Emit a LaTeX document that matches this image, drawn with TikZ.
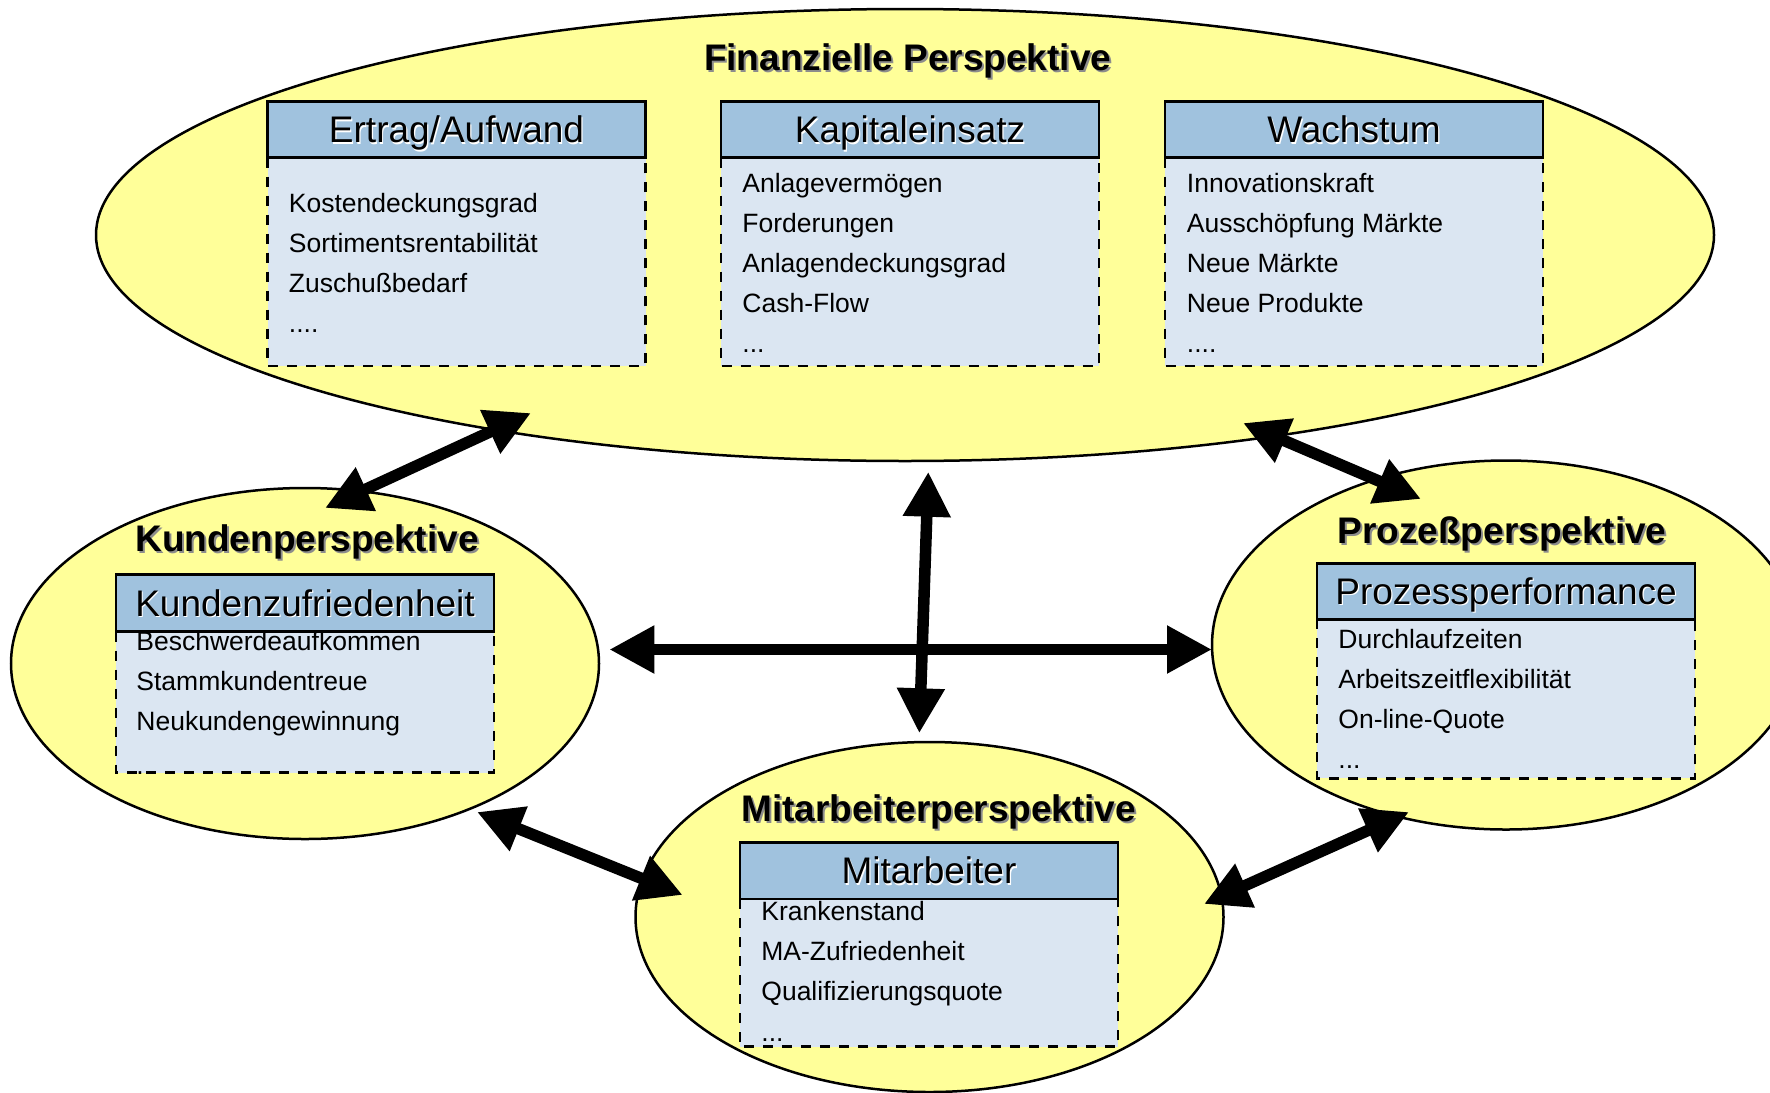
\documentclass[tikz,border=0pt]{standalone}
\usepackage{fontspec}
\setmainfont{Liberation Sans}
\usetikzlibrary{shapes.geometric,arrows.meta}

\definecolor{perspfill}{RGB}{255,255,153}
\definecolor{headfill}{RGB}{160,194,222}
\definecolor{bodyfill}{RGB}{219,230,242}
\definecolor{titleshade}{RGB}{140,140,140}

% header and body of one indicator box (width 378 units)
\newcommand\kpibox[5]{%
  \fill[bodyfill] (#1,#3) rectangle ({#1+378},#4);
  \draw[boxline,fill=headfill] (#1,#2) rectangle ({#1+378},#3);
  \node[headshade] at ({#1+189+1.2},{(#2+#3)/2+13.3+1.2}) {#5};
  \node[headtext] at ({#1+189},{(#2+#3)/2+13.3}) {#5};
}
% dashed frame of the body part
\newcommand\kpiframe[3]{%
  \draw[boxline,kpidash] (#1,#2) rectangle ({#1+378},#3);
}

\begin{document}
\begin{tikzpicture}[x=0.5pt,y=-0.5pt,
  persp/.style={ellipse, draw=black, line width=1.25pt, fill=perspfill,
    inner sep=0pt, minimum width=294pt},
  ptitle/.style={font=\fontsize{18.5}{20}\selectfont\bfseries, anchor=base, inner sep=0pt},
  pshade/.style={ptitle, text=titleshade},
  headtext/.style={font=\fontsize{18.5}{20}\selectfont, anchor=base, inner sep=0pt},
  headshade/.style={headtext, text=white},
  item/.style={font=\fontsize{13.25}{15}\selectfont, anchor=base west, inner sep=0pt},
  boxline/.style={draw=black, line width=1.35pt},
  kpidash/.style={dash pattern=on 5pt off 4.5pt},
  link/.style={line width=5.75pt, {Triangle[length=22.5pt,width=22.5pt]}-{Triangle[length=22.5pt,width=22.5pt]}}
]
\useasboundingbox (0,0) rectangle (1770,1092);
\clip (0,0) rectangle (1770,1092);

% ---- the four perspectives ----
\node[persp, minimum width=809pt, minimum height=226pt] (fin) at (905,235) {};
\node[persp, minimum height=175.5pt] (kun) at (305,663.5) {};
\node[persp, minimum height=184.5pt] (pro) at (1506,645) {};
\node[persp, minimum height=175pt] (mit) at (929.5,917) {};

% ---- titles ----
\node[pshade] (fin-ts) at (909.6,72) {Finanzielle Perspektive};
\node[ptitle] (fin-t) at (907.6,70) {Finanzielle Perspektive};
\node[pshade] (kun-ts) at (309,553.7) {Kundenperspektive};
\node[ptitle] (kun-t) at (307,551.7) {Kundenperspektive};
\node[pshade] (pro-ts) at (1504,545) {Prozeßperspektive};
\node[ptitle] (pro-t) at (1502,543) {Prozeßperspektive};
\node[pshade] (mit-ts) at (940.7,823.7) {Mitarbeiterperspektive};
\node[ptitle] (mit-t) at (938.7,821.7) {Mitarbeiterperspektive};

% ---- indicator boxes ----
\kpibox{267.5}{101.6}{157.7}{366}{Ertrag/Aufwand}
\kpibox{721}{101.6}{157.7}{366}{Kapitaleinsatz}
\kpibox{1165}{101.6}{157.7}{366}{Wachstum}
\kpibox{116}{574.3}{631.7}{772.7}{Kundenzufriedenheit}
\kpibox{1317}{563.3}{619.3}{778.3}{Prozessperformance}
\kpibox{740}{842.3}{899}{1046.7}{Mitarbeiter}

% financial indicators
\node[item] (ert-1) at (288.5,212) {Kostendeckungsgrad};
\node[item] (ert-2) at (288.5,252) {Sortimentsrentabilität};
\node[item] (ert-3) at (288.5,292) {Zuschußbedarf};
\node[item] (ert-4) at (288.5,332) {....};

\node[item] (kap-1) at (742,192) {Anlagevermögen};
\node[item] (kap-2) at (742,232) {Forderungen};
\node[item] (kap-3) at (742,272) {Anlagendeckungsgrad};
\node[item] (kap-4) at (742,312) {Cash-Flow};
\node[item] (kap-5) at (742,352) {...};

\node[item] (wac-1) at (1186.5,192) {Innovationskraft};
\node[item] (wac-2) at (1186.5,232) {Ausschöpfung Märkte};
\node[item] (wac-3) at (1186.5,272) {Neue Märkte};
\node[item] (wac-4) at (1186.5,312) {Neue Produkte};
\node[item] (wac-5) at (1186.5,352) {....};

% customer indicators
\node[item] (kzf-1) at (136,650.7) {Beschwerdeaufkommen};
\node[item] (kzf-2) at (136,690.7) {Stammkundentreue};
\node[item] (kzf-3) at (136,730.7) {Neukundengewinnung};
\begin{scope}
  \clip (116,631.7) rectangle (494,774);
  \node[item] (kzf-4) at (136,774) {...};
\end{scope}

% process indicators
\node[item] (prf-1) at (1338,648) {Durchlaufzeiten};
\node[item] (prf-2) at (1338,688) {Arbeitszeitflexibilität};
\node[item] (prf-3) at (1338,728) {On-line-Quote};
\node[item] (prf-4) at (1338,768) {...};

% employee indicators
\node[item] (mab-1) at (761,920) {Krankenstand};
\node[item] (mab-2) at (761,960) {MA-Zufriedenheit};
\node[item] (mab-3) at (761,1000) {Qualifizierungsquote};
\node[item] (mab-4) at (761,1041.7) {...};

\kpiframe{267.5}{157.7}{366}
\kpiframe{721}{157.7}{366}
\kpiframe{1165}{157.7}{366}
\kpiframe{116}{631.7}{772.7}
\kpiframe{1317}{619.3}{778.3}
\kpiframe{740}{899}{1046.7}

% ---- arrow ends ----
\coordinate (fin-kun-a) at (531,413);
\coordinate (fin-kun-b) at (325,508);
\coordinate (fin-mit-a) at (928.3,471.7);
\coordinate (fin-mit-b) at (919.3,733.3);
\coordinate (kun-pro-a) at (609.3,649.5);
\coordinate (kun-pro-b) at (1212,649.5);
\coordinate (fin-pro-a) at (1243,423);
\coordinate (fin-pro-b) at (1421,499);
\coordinate (kun-mit-a) at (477,812);
\coordinate (kun-mit-b) at (682.7,895);
\coordinate (mit-pro-a) at (1204,904);
\coordinate (mit-pro-b) at (1409,812);

% ---- relations ----
\draw[link] (fin-kun-a) -- (fin-kun-b);
\draw[link] (fin-mit-a) -- (fin-mit-b);
\draw[link] (kun-pro-a) -- (kun-pro-b);
\draw[link] (fin-pro-a) -- (fin-pro-b);
\draw[link] (kun-mit-a) -- (kun-mit-b);
\draw[link] (mit-pro-a) -- (mit-pro-b);
\end{tikzpicture}
\end{document}
